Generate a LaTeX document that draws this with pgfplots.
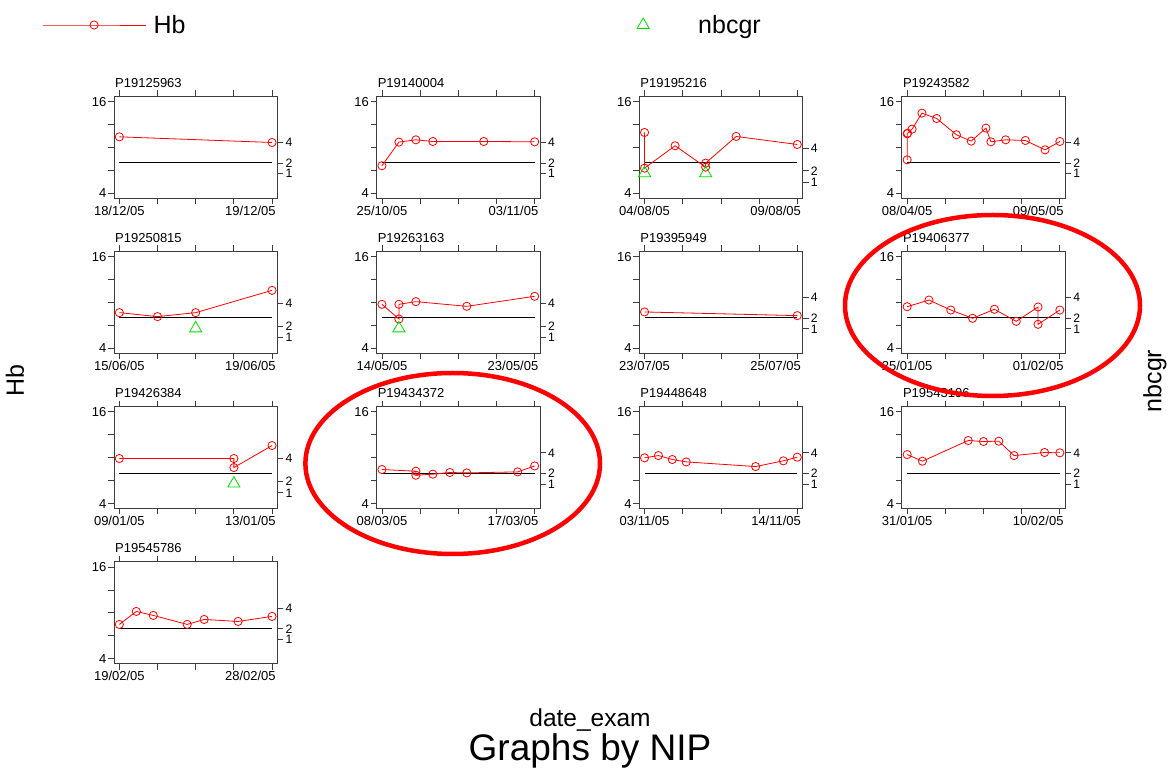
\documentclass[border=0pt]{standalone}
\usepackage{fontspec}
\setmainfont{Liberation Sans}
\usepackage{pgfplots}
\pgfplotsset{compat=1.18}
\definecolor{hbred}{RGB}{255,0,0}
\definecolor{trigreen}{RGB}{0,220,0}
\definecolor{axgray}{RGB}{60,60,60}
\newcommand{\smallfont}{\fontsize{13}{15}\selectfont}
\newcommand{\rightfont}{\fontsize{12.2}{14}\selectfont}
\pgfplotsset{
  panel/.style={scale only axis, width=163.4pt, height=101.8pt, anchor=north west,
    ymin=3.345, ymax=16.68, ytick={4,7,10,13,16}, yticklabels={4,{},{},{},16},
    ytick pos=left, xtick pos=both, tick align=outside, major tick length=6pt,
    axis line style={axgray, line width=0.8pt},
    tick style={axgray, line width=0.8pt},
    tick label style={font=\smallfont, inner xsep=1.5pt, inner ysep=0pt, text height=9.4pt, text depth=0pt},
    xticklabel style={yshift=-1.5pt},
    extra x tick style={xticklabel style={anchor=north east, xshift=5.35pt}},
    title style={at={(0,1)}, anchor=south west, yshift=3pt, xshift=1pt, inner sep=0pt, font=\smallfont, text depth=0pt},
    clip=false},
  rightax/.style={scale only axis, width=163.4pt, height=101.8pt, anchor=north west,
    axis x line=none, axis y line*=right, ytick={1,2,4}, yticklabels={1,2,4},
    tick align=outside, major tick length=6pt,
    axis line style={axgray, line width=0.8pt},
    tick style={axgray, line width=0.8pt},
    tick label style={font=\rightfont, inner xsep=2pt, inner ysep=0pt, text height=8.8pt, text depth=0pt}, clip=false},
  hb/.style={hbred, line width=0.8pt, mark=o, mark size=4.1pt, mark options={solid, line width=0.8pt}},
  tri/.style={trigreen, only marks, mark=triangle, mark size=7pt, mark options={line width=0.8pt}},
  refline/.style={black, line width=0.9pt},
}
\newcommand{\hbpanel}[7]{%
  \pgfmathsetmacro\tA{#4/4}\pgfmathsetmacro\tB{#4/2}\pgfmathsetmacro\tC{3*#4/4}%
  \pgfmathsetmacro\xlo{-0.035*#4}\pgfmathsetmacro\xhi{1.035*#4}%
  \begin{axis}[panel, at={(#1pt,#2pt)}, xmin=\xlo, xmax=\xhi,
    xtick={0,\tA,\tB,\tC,#4}, xticklabels={{#5},{},{},{},{}},
    extra x ticks={#4}, extra x tick labels={{#6}}, title={#3}]
    \addplot[refline, forget plot] coordinates {(0,8) (#4,8)};
    \addplot[hb] coordinates {#7};
  \end{axis}}
\newcommand{\nbA}[3]{%
  \pgfmathsetmacro\xlo{-0.035*#3}\pgfmathsetmacro\xhi{1.035*#3}%
  \begin{axis}[rightax, at={(#1pt,#2pt)}, xmin=\xlo, xmax=\xhi, ymin=-1.372, ymax=8.445]
    \addplot[draw=none] coordinates {(0,2)};
  \end{axis}}
\newcommand{\nbB}[4]{%
  \pgfmathsetmacro\xlo{-0.035*#3}\pgfmathsetmacro\xhi{1.035*#3}%
  \begin{axis}[rightax, at={(#1pt,#2pt)}, xmin=\xlo, xmax=\xhi, ymin=-0.386, ymax=8.544]
    \addplot[tri] coordinates {#4};
  \end{axis}}
\begin{document}
\begin{tikzpicture}
\useasboundingbox (0pt,0pt) rectangle (1168pt,769pt);
% Row 1
\hbpanel{114}{672.7}{P19125963}{1}{18/12/05}{19/12/05}{(0,11.37)(1,10.63)}
\nbA{114}{672.7}{1}
\hbpanel{376.6}{672.7}{P19140004}{9}{25/10/05}{03/11/05}{(0,7.58)(1,10.68)(2,10.98)(3,10.76)(6,10.76)(9,10.72)}
\nbA{376.6}{672.7}{9}
\hbpanel{639.2}{672.7}{P19195216}{5}{04/08/05}{09/08/05}{(0,11.94)(0,7.27)(1,10.20)(2,7.40)(2,7.93)(3,11.42)(5,10.37)}
\nbB{639.2}{672.7}{5}{(0,1.8)(2,1.8)}
\hbpanel{901.8}{672.7}{P19243582}{31}{08/04/05}{09/05/05}{(0,8.36)(0,11.77)(0.1,11.85)(1,12.38)(3,14.47)(6,13.77)(10,11.64)(13,10.81)(16,12.51)(17,10.72)(20,10.98)(24,10.89)(28,9.67)(31,10.76)}
\nbA{901.8}{672.7}{31}
% Row 2
\hbpanel{114}{517.5}{P19250815}{4}{15/06/05}{19/06/05}{(0,8.67)(1,8.15)(2,8.67)(4,11.59)}
\nbB{114}{517.5}{4}{(2,1.8)}
\hbpanel{376.6}{517.5}{P19263163}{9}{14/05/05}{23/05/05}{(0,9.76)(1,7.84)(1,9.76)(2,10.11)(5,9.50)(9,10.81)}
\nbB{376.6}{517.5}{9}{(1,1.8)}
\hbpanel{639.2}{517.5}{P19395949}{2}{23/07/05}{25/07/05}{(0,8.76)(2,8.28)}
\nbA{639.2}{517.5}{2}
\hbpanel{901.8}{517.5}{P19406377}{7}{25/01/05}{01/02/05}{(0,9.45)(1,10.32)(2,9.01)(3,7.93)(4,9.11)(5,7.53)(6,9.41)(6,7.14)(7,9.01)}
\nbA{901.8}{517.5}{7}
% Row 3
\hbpanel{114}{362.3}{P19426384}{4}{09/01/05}{13/01/05}{(0,9.89)(3,9.89)(3,8.71)(4,11.59)}
\nbB{114}{362.3}{4}{(3,1.8)}
\hbpanel{376.6}{362.3}{P19434372}{9}{08/03/05}{17/03/05}{(0,8.45)(2,8.23)(2,7.70)(3,7.84)(4,8.06)(5,8.01)(8,8.14)(9,8.92)}
\nbA{376.6}{362.3}{9}
\hbpanel{639.2}{362.3}{P19448648}{11}{03/11/05}{14/11/05}{(0,9.98)(1,10.28)(2,9.76)(3,9.45)(8,8.84)(10,9.59)(11,10.07)}
\nbA{639.2}{362.3}{11}
\hbpanel{901.8}{362.3}{P19543196}{10}{31/01/05}{10/02/05}{(0,10.41)(1,9.54)(4,12.25)(5,12.12)(6,12.16)(7,10.28)(9,10.68)(10,10.64)}
\nbA{901.8}{362.3}{10}
% Row 4
\hbpanel{114}{207.1}{P19545786}{9}{19/02/05}{28/02/05}{(0,8.49)(1,10.19)(2,9.67)(4,8.49)(5,9.14)(7,8.88)(9,9.54)}
\nbA{114}{207.1}{9}
% Legends
\begin{axis}[hide axis, scale only axis, width=10pt, height=10pt, at={(42pt,739pt)}, anchor=south west,
  xmin=0, xmax=1, ymin=0, ymax=1,
  legend style={at={(0,0.5)}, anchor=west, draw=none, fill=none, inner sep=0pt,
    font=\fontsize{25}{28}\selectfont, nodes={inner sep=0pt}}, legend cell align=left]
  \addlegendimage{hb, legend image code/.code={\draw[hbred, line width=0.8pt, mark repeat=2,mark phase=2] plot coordinates {(0pt,0pt)(51.5pt,0pt)(103pt,0pt)}; \path[draw=none, fill=none] (0pt,0pt) -- (111pt,0pt);}}
  \addlegendentry{Hb}
\end{axis}
\begin{axis}[hide axis, scale only axis, width=10pt, height=10pt, at={(636.5pt,739pt)}, anchor=south west,
  xmin=0, xmax=1, ymin=0, ymax=1,
  legend style={at={(0,0.5)}, anchor=west, draw=none, fill=none, inner sep=0pt,
    font=\fontsize{25}{28}\selectfont, nodes={inner sep=0pt}}, legend cell align=left]
  \addlegendimage{tri, legend image code/.code={\draw[trigreen, mark=triangle, mark size=7pt, line width=0.8pt] plot coordinates {(0pt,0pt)}; \path[draw=none, fill=none] (-6.5pt,0pt) -- (55pt,0pt);}}
  \addlegendentry{nbcgr}
\end{axis}
% Outer labels
\node[rotate=90, font=\fontsize{25}{28}\selectfont] at (15pt,388pt) {Hb};
\node[rotate=90, font=\fontsize{25}{28}\selectfont] at (1155pt,388pt) {nbcgr};
\node[font=\fontsize{24.5}{28}\selectfont] at (590pt,49pt) {date\_exam};
\node[font=\fontsize{37}{40}\selectfont] at (590pt,18pt) {Graphs by NIP};
% Annotation ellipses
\draw[hbred, line width=4.5pt] (992.5pt,463.5pt) ellipse [x radius=147.5pt, y radius=90.5pt];
\draw[hbred, line width=4.5pt] (452.7pt,305.5pt) ellipse [x radius=147.3pt, y radius=90.5pt];
\end{tikzpicture}
\end{document}
